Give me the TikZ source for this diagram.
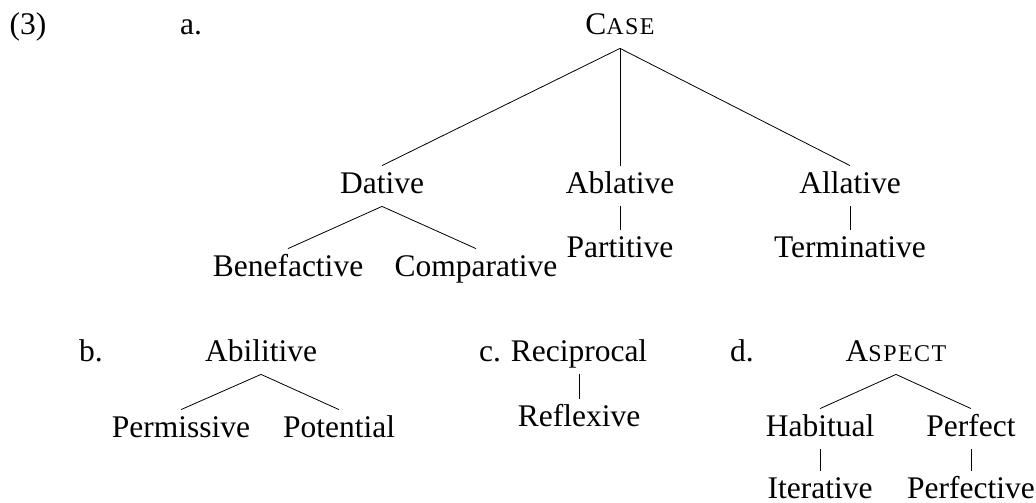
\documentclass[tikz,border=0pt]{standalone}
\usepackage{fontspec}
\setmainfont{Liberation Serif}
\newcommand\lowcaps[1]{{\fontsize{24}{28}\selectfont\addfontfeatures{LetterSpace=6}#1}}
\tikzset{cat/.style={anchor=base, inner sep=5pt, text height=22pt, text depth=8pt},
         num/.style={anchor=base, inner sep=0pt}}
\begin{document}
\begin{tikzpicture}[x=1pt, y=-1pt, font=\fontsize{31.5}{38}\selectfont, line width=0.8pt]
    \useasboundingbox (0, 0) rectangle (1036, 503);
    % (3a)
    \draw (28, 35) node (ex) [num] {(3)}
          (191, 35) node (la) [num] {a.}
          (620, 35) node (case) [cat] {C\lowcaps{ASE}}
          (382, 193) node (dat) [cat] {Dative}
          (620, 193) node (abl) [cat] {Ablative}
          (850, 193) node (all) [cat] {Allative}
          (288, 276) node (ben) [cat] {Benefactive}
          (476, 276) node (comp) [cat] {Comparative}
          (620, 257) node (part) [cat] {Partitive}
          (850, 257) node (term) [cat] {Terminative};
    \draw (case.south) edge (dat.north)
          (case.south) edge (abl.north)
          (case.south) edge (all.north)
          (dat.south) edge (ben.north)
          (dat.south) edge (comp.north)
          (abl.south) edge (part.north)
          (all.south) edge (term.north);
    % (3b)
    \draw (91, 361) node (lb) [num] {b.}
          (261, 361) node (abil) [cat] {Abilitive}
          (181, 437) node (perm) [cat] {Permissive}
          (339, 437) node (pot) [cat] {Potential};
    \draw (abil.south) edge (perm.north)
          (abil.south) edge (pot.north);
    % (3c)
    \draw (490, 361) node (lc) [num] {c.}
          (579, 361) node (recip) [cat] {Reciprocal}
          (579, 426) node (refl) [cat] {Reflexive};
    \draw (recip.south) edge (refl.north);
    % (3d)
    \draw (742, 361) node (ld) [num] {d.}
          (896, 361) node (asp) [cat] {A\lowcaps{SPECT}}
          (820, 436) node (hab) [cat] {Habitual}
          (971, 436) node (perf) [cat] {Perfect}
          (820, 498) node (iter) [cat] {Iterative}
          (971, 498) node (pfv) [cat] {Perfective};
    \draw (asp.south) edge (hab.north)
          (asp.south) edge (perf.north)
          (hab.south) edge (iter.north)
          (perf.south) edge (pfv.north);
\end{tikzpicture}
\end{document}
